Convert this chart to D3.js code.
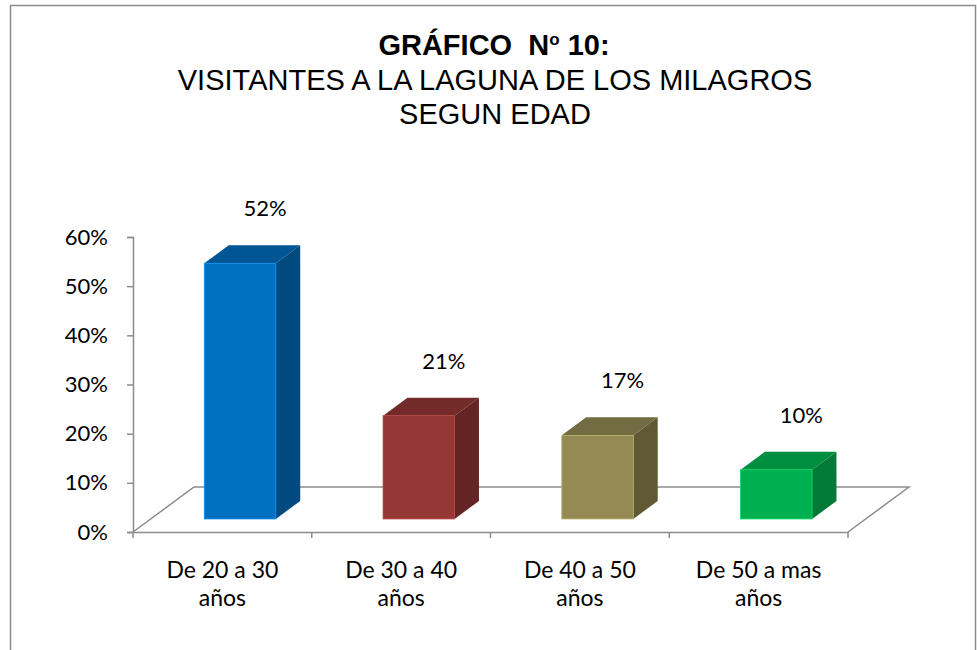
<!DOCTYPE html>
<html>
<head>
<meta charset="utf-8">
<script src="https://cdn.jsdelivr.net/npm/d3@7"></script>
<style>
  body { margin: 0; background: #fff; }
  svg text { fill: #000; }
</style>
</head>
<body>
<div id="chart"></div>
<script>
// chart data
var categories = ["De 20 a 30 años", "De 30 a 40 años", "De 40 a 50 años", "De 50 a mas años"];
var catLines = [["De 20 a 30", "años"], ["De 30 a 40", "años"], ["De 40 a 50", "años"], ["De 50 a mas", "años"]];
var values = [0.52, 0.21, 0.17, 0.10];
var yTicks = [0, 0.1, 0.2, 0.3, 0.4, 0.5, 0.6];
var titleLines = ["VISITANTES A LA LAGUNA DE LOS MILAGROS", "SEGUN EDAD"];

// colours per bar: front, top, side
var fronts = ["#0070c0", "#953735", "#948a54", "#00b050"];
var tops   = ["#005593", "#732b29", "#736b41", "#008f40"];
var sides  = ["#004a80", "#632423", "#5f5934", "#007a36"];

const w = 977, h = 650;
const labelFont = "Lato, 'Open Sans', sans-serif";
const titleFont = "'Liberation Sans', Arial, sans-serif";

const svg = d3.select("#chart").append("svg")
  .attr("width", w).attr("height", h);

// outer frame
svg.append("rect")
  .attr("x", 10.5).attr("y", 5.5)
  .attr("width", 965).attr("height", 660)
  .attr("fill", "none").attr("stroke", "#8c8c8c").attr("stroke-width", 1.5);

// title
var t = svg.append("text")
  .attr("x", 494).attr("y", 55)
  .attr("text-anchor", "middle")
  .style("white-space", "pre")
  .style("font-family", titleFont)
  .style("font-size", "29px").style("font-weight", "bold");
t.append("tspan").text("GRÁFICO  N");
t.append("tspan").text("o").style("font-size", "17px").attr("dy", -10);
t.append("tspan").text(" 10:").attr("dy", 10);

titleLines.forEach(function(s, i) {
  svg.append("text")
    .attr("x", 495).attr("y", 90 + i * 34)
    .attr("text-anchor", "middle")
    .style("font-family", titleFont)
    .style("font-size", "29px")
    .text(s);
});

// scales (front plane of the floor)
const left = 133, right = 848;
const yScale = d3.scaleLinear().domain([0, 0.6]).range([532, 237]);
const xScale = d3.scaleBand().domain(categories).range([left, right]);
const band = xScale.bandwidth();

// floor depth (back edge offset)
const depthX = 61, depthY = 45;
const d0 = 0.29, d1 = 0.69;   // bar depth in floor fraction
const barW = band * 0.4;

const axisCol = "#8c8c8c";

// floor
var y0 = yScale(0);
svg.append("path")
  .attr("d", d3.line()([[left, y0], [left + depthX, y0 - depthY], [right + depthX, y0 - depthY], [right, y0]]))
  .attr("fill", "none").attr("stroke", axisCol).attr("stroke-width", 1.5);

// y axis
svg.append("g")
  .attr("transform", "translate(" + left + ",0)")
  .call(d3.axisLeft(yScale).tickValues(yTicks).tickFormat(d3.format(".0%")).tickSize(6).tickPadding(19))
  .call(function(g) {
    g.select(".domain").attr("stroke", axisCol).attr("stroke-width", 1.5);
    g.selectAll(".tick line").attr("stroke", axisCol).attr("stroke-width", 1.5);
    g.selectAll("text").attr("fill", "#000")
      .style("font-family", labelFont).style("font-size", "22px");
  });

// x axis
svg.append("g")
  .attr("transform", "translate(0," + y0 + ")")
  .call(d3.axisBottom(xScale).tickSize(0).tickFormat(""))
  .call(function(g) {
    g.select(".domain").attr("stroke", axisCol).attr("stroke-width", 1.5);
  });
var edges = categories.map(function(c) { return xScale(c); }).concat([right]);
svg.selectAll(".xtick").data(edges).enter().append("line")
  .attr("x1", function(d) { return d; }).attr("x2", function(d) { return d; })
  .attr("y1", y0).attr("y2", y0 + 6)
  .attr("stroke", axisCol).attr("stroke-width", 1.5);

// category labels
categories.forEach(function(c, i) {
  var cx = xScale(c) + band / 2;
  var tx = svg.append("text")
    .attr("x", cx).attr("text-anchor", "middle")
    .style("font-family", labelFont).style("font-size", "23px");
  catLines[i].forEach(function(s, j) {
    tx.append("tspan").attr("x", cx).attr("y", 578 + j * 28).text(s);
  });
});

// 3d bars
var bars = svg.selectAll(".bar").data(values).enter().append("g");
bars.each(function(v, i) {
  var g = d3.select(this);
  var fx = xScale(categories[i]) + (band - barW) / 2 + d0 * depthX;
  var fy0 = yScale(0) - d0 * depthY;
  var fy1 = yScale(v) - d0 * depthY;
  var ox = (d1 - d0) * depthX, oy = (d1 - d0) * depthY;
  // side
  g.append("path")
    .attr("d", d3.line()([[fx + barW, fy1], [fx + barW + ox, fy1 - oy], [fx + barW + ox, fy0 - oy], [fx + barW, fy0]]) + "Z")
    .attr("fill", sides[i]);
  // top
  g.append("path")
    .attr("d", d3.line()([[fx, fy1], [fx + ox, fy1 - oy], [fx + barW + ox, fy1 - oy], [fx + barW, fy1]]) + "Z")
    .attr("fill", tops[i]);
  // front
  g.append("rect")
    .attr("x", fx).attr("y", fy1)
    .attr("width", barW).attr("height", fy0 - fy1)
    .attr("fill", fronts[i])
    .attr("stroke", d3.color(fronts[i]).brighter(0.6)).attr("stroke-width", 0.8);
  // value label
  svg.append("text")
    .attr("x", fx + barW / 2 + 25).attr("y", fy1 - 47)
    .attr("text-anchor", "middle")
    .style("font-family", labelFont).style("font-size", "22px")
    .text(d3.format(".0%")(v));
});
</script>
</body>
</html>
